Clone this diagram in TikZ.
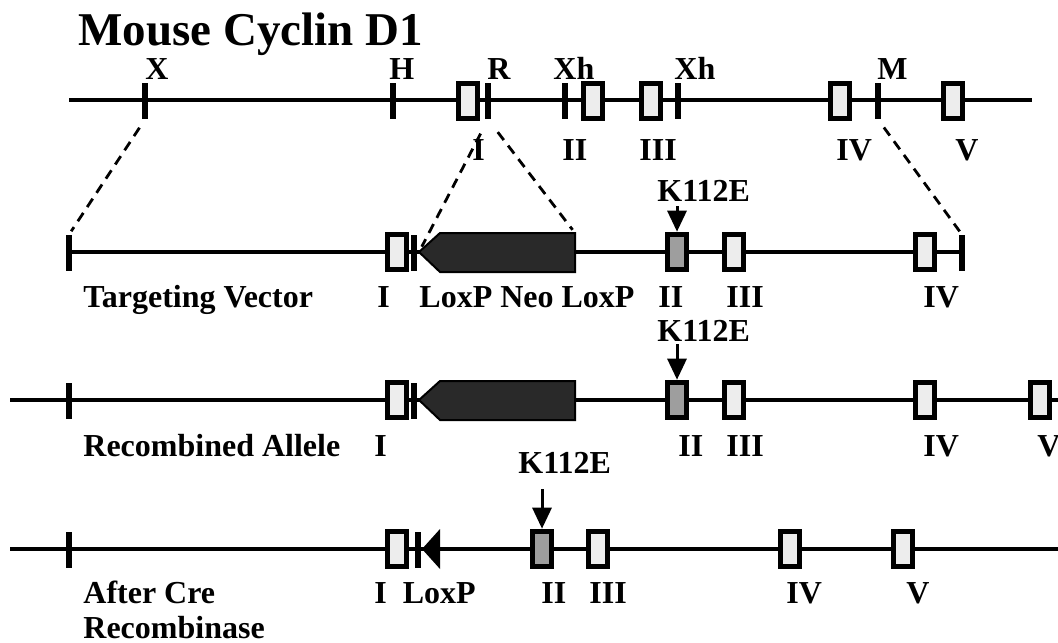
\documentclass[tikz,border=0pt]{standalone}
\usepackage{fontspec}
\setmainfont{Liberation Serif}
\usetikzlibrary{arrows.meta, calc}
\definecolor{ExonFill}{gray}{0.93}
\definecolor{MutFill}{gray}{0.62}
\definecolor{NeoFill}{gray}{0.16}
\tikzset{
    dnaline/.style={line width=2.3pt},
    site/.style={rectangle, fill=black, minimum width=2.6pt, minimum height=18pt, inner sep=0pt},
    exon/.style={rectangle, draw=black, line width=2.8pt, fill=ExonFill, minimum width=9.5pt, minimum height=17.5pt, inner sep=0pt},
    mutexon/.style={exon, fill=MutFill},
    neo/.style={fill=NeoFill, draw=black, line width=1pt},
    loxtri/.style={fill=black},
    lbl/.style={font=\bfseries\fontsize{16}{18}\selectfont, inner sep=0pt, anchor=base west},
    zoomline/.style={line width=1.4pt, dash pattern=on 5pt off 3.5pt},
    mutarrow/.style={-{Triangle[width=9.5pt,length=10.5pt]}, line width=1.5pt},
}

\begin{document}
\begin{tikzpicture}[x=0.5pt, y=-0.5pt]
    \useasboundingbox (0,0) rectangle (1058,642);
    \node[font=\bfseries\fontsize{23.5}{26}\selectfont, anchor=base west, inner sep=0pt] (title) at (78,46) {Mouse Cyclin D1};

    % Genomic locus
    \draw[dnaline] (69,100) -- (1032,100);
    \node[site] (sX) at (145,101) {};
    \node[site] (sH) at (393,101) {};
    \node[site] (sR) at (488,101) {};
    \node[site] (sXh1) at (565,101) {};
    \node[site] (sXh2) at (678,101) {};
    \node[site] (sM) at (878,101) {};
    \node[exon] (e1I) at (468,101) {};
    \node[exon] (e1II) at (593,101) {};
    \node[exon] (e1III) at (651,101) {};
    \node[exon] (e1IV) at (840,101) {};
    \node[exon] (e1V) at (953,101) {};
    \node[lbl] at (145,80) {X};
    \node[lbl] at (389,80) {H};
    \node[lbl] at (487,80) {R};
    \node[lbl] at (553,80) {Xh};
    \node[lbl] at (674,80) {Xh};
    \node[lbl] at (877,80) {M};
    \node[lbl] at (472,160) {I};
    \node[lbl] at (562,160) {II};
    \node[lbl] at (639,160) {III};
    \node[lbl] at (836,160) {IV};
    \node[lbl] at (955,160) {V};

    % Targeting vector
    \draw[dnaline] (69,252) -- (962,252);
    \node[site] (b2L) at (69,253) {};
    \node[site] (b2R) at (962,253) {};
    \node[exon] (e2I) at (397,252) {};
    \node[site] (lox2) at (414,253) {};
    \filldraw[neo] (419,252) coordinate (neo2tip) -- (440,233) -- (575,233) coordinate (neo2ne)
        -- (575,272) -- (440,272) -- cycle;
    \node[mutexon] (e2II) at (677,252) {};
    \node[exon] (e2III) at (734,252) {};
    \node[exon] (e2IV) at (925,252) {};
    \node[lbl] (k2) at (657,201) {K112E};
    \draw[mutarrow] ($(e2II |- k2.south)+(0,5)$) -- (e2II.north);
    \node[lbl] at (83,307) {Targeting Vector};
    \node[lbl] at (377,307) {I};
    \node[lbl] at (419,307) {LoxP Neo LoxP};
    \node[lbl] at (658,307) {II};
    \node[lbl] at (726,307) {III};
    \node[lbl] at (923,307) {IV};

    % Dashed homology arms
    \draw[zoomline, shorten <=5pt, shorten >=2pt] (sX.south) -- (b2L.north);
    \draw[zoomline, shorten <=8pt, shorten >=3pt] (sR.south) -- (neo2tip);
    \draw[zoomline, shorten <=8pt, shorten >=2pt] (sR.south) -- (neo2ne);
    \draw[zoomline, shorten <=5pt, shorten >=2pt] (sM.south) -- (b2R.north);

    % Recombined allele
    \draw[dnaline] (10,400) -- (1058,400);
    \node[site] (b3L) at (69,401) {};
    \node[exon] (e3I) at (397,400) {};
    \node[site] (lox3) at (414,401) {};
    \filldraw[neo] (419,400) coordinate (neo3tip) -- (440,381) -- (575,381)
        -- (575,420) -- (440,420) -- cycle;
    \node[mutexon] (e3II) at (677,400) {};
    \node[exon] (e3III) at (734,400) {};
    \node[exon] (e3IV) at (925,400) {};
    \node[exon] (e3V) at (1040,400) {};
    \node[lbl] (k3) at (657,341) {K112E};
    \draw[mutarrow] ($(e3II |- k3.south)+(0,3)$) -- (e3II.north);
    \node[lbl] at (83,456) {Recombined Allele};
    \node[lbl] at (374,456) {I};
    \node[lbl] at (678,456) {II};
    \node[lbl] at (726,456) {III};
    \node[lbl] at (923,456) {IV};
    \node[lbl] at (1037,456) {V};

    % After Cre
    \draw[dnaline] (10,549) -- (1058,549);
    \node[site] (b4L) at (69,550) {};
    \node[exon] (e4I) at (397,549) {};
    \node[site] (lox4) at (418,550) {};
    \fill[loxtri] (422,549) coordinate (tri4) -- (440,529) -- (440,569) -- cycle;
    \node[mutexon] (e4II) at (542,549) {};
    \node[exon] (e4III) at (598,549) {};
    \node[exon] (e4IV) at (790,549) {};
    \node[exon] (e4V) at (903,549) {};
    \node[lbl] (k4) at (518,473) {K112E};
    \draw[mutarrow] ($(e4II |- k4.south)+(0,16)$) -- (e4II.north);
    \node[lbl] at (83,603) {After Cre};
    \node[lbl] at (83,638) {Recombinase};
    \node[lbl] at (374,603) {I\enspace LoxP};
    \node[lbl] at (541,603) {II};
    \node[lbl] at (589,603) {III};
    \node[lbl] at (786,603) {IV};
    \node[lbl] at (906,603) {V};
\end{tikzpicture}
\end{document}
